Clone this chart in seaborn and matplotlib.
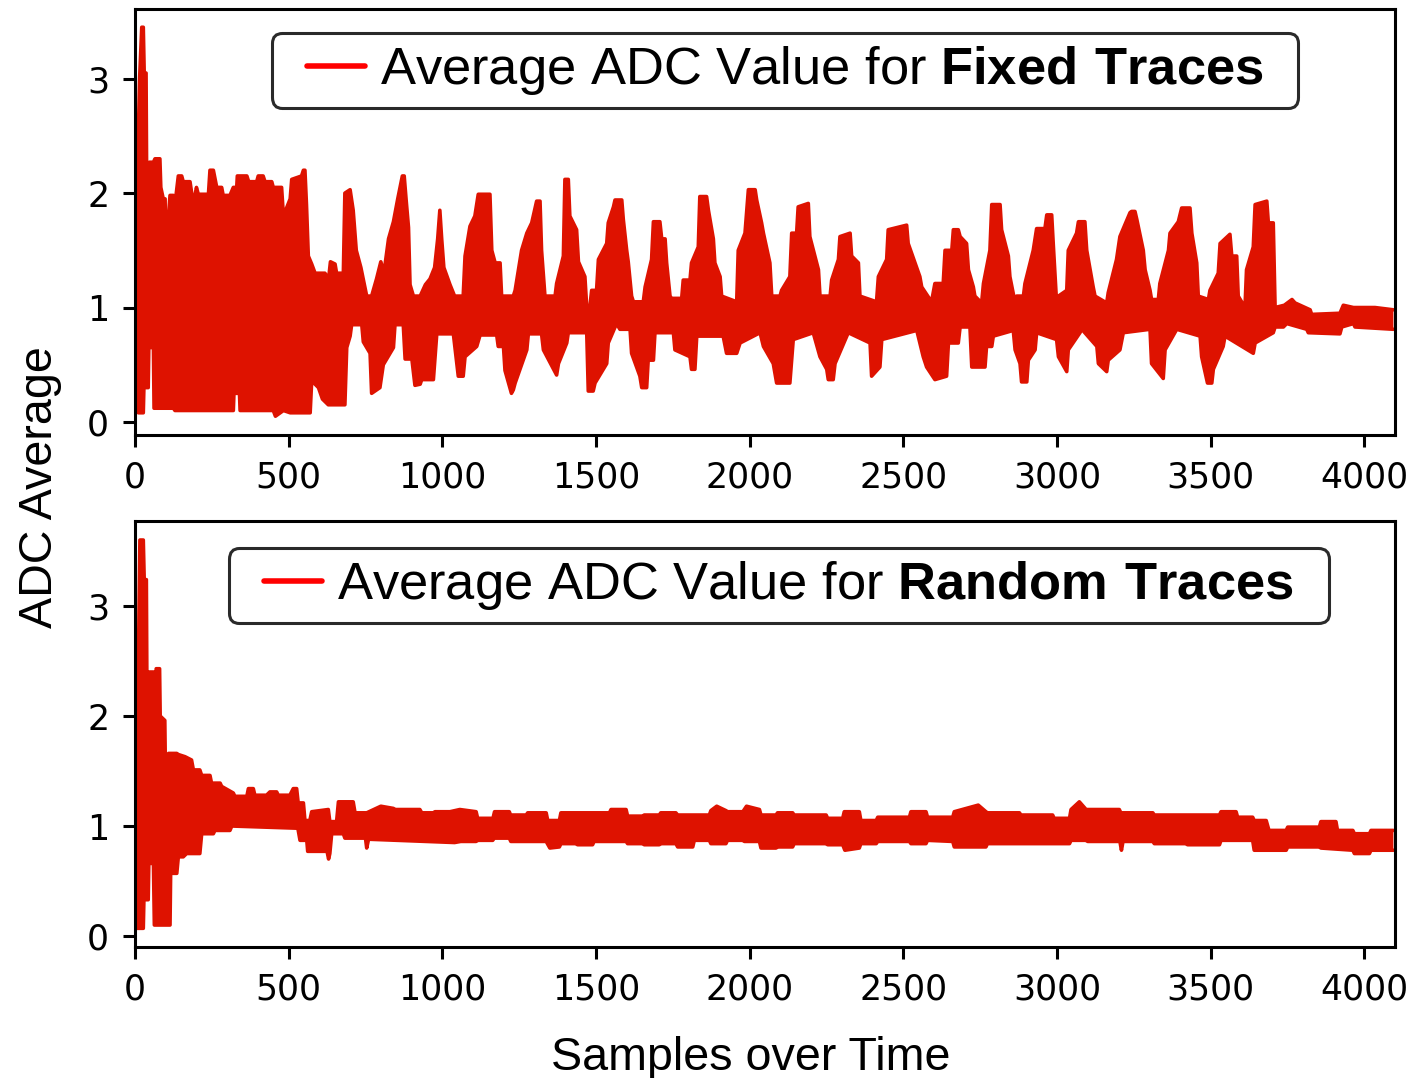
import numpy as np
import matplotlib
matplotlib.use("Agg")
import matplotlib.pyplot as plt
from matplotlib.lines import Line2D
from matplotlib.legend_handler import HandlerLine2D
from matplotlib.offsetbox import DrawingArea
import seaborn as sns

# ---- envelope of the averaged ADC traces (sample index, value) ----
fixed_upper_s = [0, 10, 15, 22, 27, 30, 36, 38, 44, 47, 60, 65, 81, 84, 92, 98, 100, 106, 114, 125,
                 130, 141, 152, 157, 179, 190, 200, 206, 239, 244, 255, 266, 282, 287, 309, 320, 331,
                 333, 364, 370, 396, 401, 417, 423, 445, 450, 477, 483, 505, 510, 542, 548, 553, 558,
                 564, 575, 586, 618, 630, 636, 651, 656, 678, 683, 700, 710, 720, 735, 754, 770, 786,
                 800, 810, 825, 841, 855, 870, 876, 882, 890, 895, 906, 928, 945, 960, 975, 985, 992,
                 998, 1005, 1025, 1040, 1068, 1074, 1090, 1106, 1117, 1155, 1161, 1172, 1188, 1193,
                 1231, 1237, 1258, 1275, 1291, 1307, 1318, 1323, 1334, 1367, 1372, 1394, 1399, 1410,
                 1415, 1437, 1443, 1464, 1470, 1480, 1486, 1502, 1508, 1535, 1540, 1557, 1562, 1584,
                 1589, 1600, 1605, 1616, 1622, 1654, 1660, 1681, 1687, 1708, 1714, 1725, 1730, 1741,
                 1746, 1779, 1784, 1806, 1811, 1833, 1838, 1860, 1866, 1882, 1887, 1904, 1909, 1958,
                 1963, 1985, 1996, 2018, 2023, 2039, 2045, 2066, 2072, 2099, 2104, 2131, 2137, 2153,
                 2158, 2191, 2196, 2224, 2229, 2262, 2267, 2289, 2294, 2327, 2332, 2354, 2359, 2413,
                 2419, 2446, 2451, 2511, 2516, 2554, 2560, 2592, 2603, 2630, 2636, 2658, 2663, 2679,
                 2685, 2706, 2712, 2728, 2733, 2755, 2761, 2782, 2788, 2815, 2820, 2842, 2847, 2864,
                 2869, 2891, 2896, 2923, 2934, 2961, 2967, 2983, 2988, 2999, 3005, 3032, 3037, 3064,
                 3070, 3091, 3097, 3118, 3124, 3162, 3167, 3194, 3205, 3238, 3243, 3254, 3260, 3281,
                 3287, 3303, 3308, 3330, 3335, 3363, 3368, 3395, 3406, 3433, 3439, 3455, 3460, 3493,
                 3498, 3525, 3531, 3563, 3569, 3585, 3590, 3612, 3617, 3639, 3645, 3683, 3688, 3704,
                 3710, 3740, 3765, 3775, 3824, 3829, 3921, 3932, 3965, 4035, 4095]
fixed_upper_v = [2.40, 2.40, 3.00, 3.45, 3.45, 3.05, 3.05, 2.10, 2.10, 2.27, 2.27, 2.30, 2.30, 2.05,
                 1.95, 1.95, 1.50, 1.70, 1.98, 1.98, 1.90, 2.15, 2.15, 2.10, 2.10, 1.90, 2.05, 1.99,
                 1.99, 2.20, 2.20, 2.05, 2.05, 1.98, 1.98, 2.05, 2.05, 2.15, 2.15, 2.10, 2.10, 2.15,
                 2.15, 2.10, 2.10, 2.05, 2.05, 1.80, 1.95, 2.12, 2.15, 2.20, 2.20, 1.90, 1.45, 1.38,
                 1.30, 1.30, 1.25, 1.40, 1.38, 1.30, 1.30, 2.00, 2.03, 1.85, 1.50, 1.35, 1.10, 1.10,
                 1.25, 1.40, 1.30, 1.60, 1.75, 1.95, 2.15, 2.15, 1.95, 1.70, 1.20, 1.10, 1.10, 1.20,
                 1.25, 1.35, 1.60, 1.85, 1.60, 1.35, 1.20, 1.10, 1.10, 1.45, 1.71, 1.80, 1.99, 1.99,
                 1.50, 1.39, 1.39, 1.10, 1.10, 1.15, 1.50, 1.65, 1.74, 1.93, 1.93, 1.50, 1.10, 1.10,
                 1.21, 1.45, 2.12, 2.12, 1.80, 1.68, 1.40, 1.27, 1.00, 1.00, 1.15, 1.15, 1.42, 1.56,
                 1.74, 1.88, 1.94, 1.94, 1.77, 1.50, 1.40, 1.10, 1.05, 1.05, 1.18, 1.42, 1.75, 1.75,
                 1.60, 1.60, 1.39, 1.10, 1.08, 1.08, 1.24, 1.24, 1.39, 1.53, 1.97, 1.97, 1.85, 1.60,
                 1.39, 1.27, 1.10, 1.05, 1.50, 1.65, 2.03, 2.03, 1.94, 1.74, 1.65, 1.39, 1.10, 1.10,
                 1.15, 1.27, 1.65, 1.65, 1.88, 1.91, 1.62, 1.33, 1.10, 1.10, 1.24, 1.42, 1.62, 1.65,
                 1.45, 1.39, 1.10, 1.05, 1.27, 1.42, 1.68, 1.72, 1.56, 1.27, 1.18, 1.05, 1.21, 1.21,
                 1.50, 1.50, 1.68, 1.68, 1.62, 1.56, 1.33, 1.18, 1.10, 1.04, 1.21, 1.50, 1.90, 1.90,
                 1.68, 1.45, 1.27, 1.04, 1.10, 1.10, 1.21, 1.50, 1.69, 1.69, 1.81, 1.81, 1.56, 1.04,
                 1.10, 1.15, 1.50, 1.65, 1.75, 1.75, 1.50, 1.18, 1.10, 1.04, 1.13, 1.42, 1.62, 1.83,
                 1.84, 1.84, 1.77, 1.50, 1.33, 1.15, 1.07, 1.07, 1.21, 1.50, 1.65, 1.75, 1.87, 1.87,
                 1.65, 1.39, 1.10, 1.07, 1.15, 1.30, 1.56, 1.64, 1.45, 1.45, 1.10, 1.00, 1.33, 1.53,
                 1.90, 1.93, 1.74, 1.74, 1.00, 1.02, 1.07, 1.04, 0.98, 0.94, 0.95, 1.02, 1.00, 1.00,
                 0.98]

fixed_lower_s = [0, 5, 11, 27, 29, 43, 45, 60, 62, 125, 130, 320, 322, 340, 342, 450, 457, 483, 505,
                 570, 575, 597, 610, 629, 683, 689, 700, 705, 738, 743, 765, 770, 797, 808, 841, 846,
                 873, 879, 901, 911, 928, 933, 971, 982, 1036, 1052, 1068, 1074, 1112, 1123, 1177,
                 1182, 1199, 1204, 1225, 1231, 1237, 1275, 1280, 1323, 1329, 1372, 1378, 1405, 1410,
                 1470, 1475, 1491, 1497, 1535, 1540, 1567, 1578, 1611, 1616, 1643, 1649, 1665, 1670,
                 1687, 1692, 1752, 1757, 1806, 1811, 1822, 1828, 1914, 1925, 1958, 1969, 2034, 2045,
                 2077, 2088, 2131, 2142, 2207, 2229, 2251, 2256, 2272, 2278, 2316, 2321, 2392, 2397,
                 2424, 2430, 2544, 2565, 2576, 2603, 2641, 2647, 2679, 2685, 2717, 2723, 2766, 2771,
                 2788, 2793, 2858, 2864, 2880, 2885, 2902, 2907, 2929, 2934, 2999, 3005, 3032, 3037,
                 3075, 3081, 3130, 3135, 3162, 3167, 3205, 3216, 3303, 3308, 3346, 3352, 3390, 3466,
                 3471, 3490, 3504, 3509, 3541, 3547, 3639, 3645, 3704, 3710, 3737, 3748, 3813, 3818,
                 3921, 3927, 3965, 3970, 4095]
fixed_lower_v = [0.10, 0.10, 0.08, 0.08, 0.30, 0.30, 0.65, 0.65, 0.12, 0.12, 0.10, 0.10, 0.25, 0.25,
                 0.10, 0.10, 0.05, 0.10, 0.08, 0.08, 0.36, 0.30, 0.20, 0.15, 0.15, 0.65, 0.75, 0.85,
                 0.85, 0.70, 0.60, 0.25, 0.30, 0.50, 0.65, 0.85, 0.85, 0.55, 0.55, 0.32, 0.33, 0.37,
                 0.37, 0.77, 0.77, 0.40, 0.40, 0.57, 0.66, 0.76, 0.76, 0.66, 0.66, 0.45, 0.25, 0.28,
                 0.34, 0.63, 0.77, 0.77, 0.63, 0.41, 0.51, 0.69, 0.78, 0.78, 0.27, 0.27, 0.34, 0.51,
                 0.69, 0.86, 0.81, 0.81, 0.60, 0.40, 0.30, 0.30, 0.54, 0.54, 0.78, 0.78, 0.63, 0.57,
                 0.46, 0.46, 0.75, 0.75, 0.60, 0.60, 0.69, 0.78, 0.66, 0.51, 0.34, 0.34, 0.72, 0.78,
                 0.57, 0.46, 0.37, 0.37, 0.51, 0.75, 0.78, 0.69, 0.40, 0.48, 0.72, 0.80, 0.57, 0.48,
                 0.37, 0.40, 0.69, 0.69, 0.83, 0.83, 0.48, 0.48, 0.66, 0.66, 0.75, 0.80, 0.63, 0.51,
                 0.35, 0.35, 0.54, 0.63, 0.78, 0.72, 0.57, 0.44, 0.63, 0.78, 0.81, 0.66, 0.51, 0.44,
                 0.54, 0.63, 0.78, 0.81, 0.51, 0.38, 0.63, 0.81, 0.75, 0.57, 0.34, 0.34, 0.46, 0.66,
                 0.75, 0.60, 0.69, 0.78, 0.83, 0.83, 0.86, 0.81, 0.78, 0.77, 0.83, 0.86, 0.83, 0.81]

random_upper_s = [0, 11, 13, 16, 27, 30, 37, 39, 45, 47, 61, 63, 67, 69, 80, 82, 97, 100, 106, 109,
                  136, 141, 163, 184, 190, 211, 217, 244, 249, 277, 282, 320, 325, 364, 369, 385, 390,
                  428, 439, 461, 466, 504, 515, 526, 531, 548, 553, 569, 575, 629, 634, 656, 662, 710,
                  716, 754, 800, 841, 846, 927, 933, 971, 976, 1025, 1057, 1110, 1115, 1165, 1170,
                  1218, 1222, 1273, 1278, 1338, 1343, 1381, 1386, 1544, 1549, 1598, 1603, 1652, 1657,
                  1706, 1711, 1760, 1766, 1869, 1874, 1893, 1923, 1928, 1978, 1990, 2032, 2037, 2086,
                  2091, 2140, 2145, 2249, 2254, 2303, 2308, 2357, 2362, 2412, 2417, 2520, 2525, 2574,
                  2579, 2661, 2666, 2744, 2769, 2774, 2878, 2883, 2986, 2991, 3041, 3046, 3073, 3095,
                  3203, 3208, 3312, 3317, 3529, 3534, 3583, 3588, 3637, 3642, 3681, 3690, 3746, 3751,
                  3854, 3859, 3908, 3913, 3963, 3968, 4017, 4022, 4095]
random_upper_v = [2.39, 2.39, 2.93, 3.60, 3.60, 3.24, 3.24, 2.12, 2.12, 2.40, 2.40, 2.12, 2.12, 2.43,
                  2.43, 2.00, 1.96, 1.27, 1.27, 1.66, 1.66, 1.65, 1.63, 1.60, 1.51, 1.51, 1.46, 1.46,
                  1.39, 1.39, 1.36, 1.30, 1.27, 1.27, 1.34, 1.34, 1.28, 1.28, 1.31, 1.31, 1.28, 1.28,
                  1.34, 1.34, 1.21, 1.21, 1.05, 1.05, 1.13, 1.15, 1.04, 1.04, 1.22, 1.22, 1.12, 1.12,
                  1.18, 1.16, 1.15, 1.15, 1.12, 1.12, 1.13, 1.13, 1.15, 1.13, 1.07, 1.07, 1.13, 1.13,
                  1.10, 1.10, 1.12, 1.12, 1.05, 1.05, 1.12, 1.12, 1.15, 1.15, 1.09, 1.09, 1.10, 1.10,
                  1.12, 1.12, 1.10, 1.10, 1.14, 1.18, 1.14, 1.13, 1.13, 1.18, 1.15, 1.10, 1.10, 1.12,
                  1.12, 1.10, 1.10, 1.07, 1.07, 1.13, 1.13, 1.05, 1.05, 1.08, 1.08, 1.13, 1.13, 1.08,
                  1.08, 1.13, 1.19, 1.13, 1.12, 1.12, 1.10, 1.10, 1.07, 1.07, 1.15, 1.22, 1.15, 1.15,
                  1.12, 1.12, 1.10, 1.10, 1.13, 1.13, 1.08, 1.08, 1.05, 1.05, 0.96, 0.96, 0.99, 0.99,
                  1.04, 1.04, 0.96, 0.96, 0.93, 0.93, 0.96, 0.96]

random_lower_s = [0, 27, 29, 43, 45, 60, 63, 114, 116, 136, 141, 157, 168, 211, 217, 255, 260, 309,
                  315, 530, 537, 559, 562, 625, 630, 634, 640, 678, 683, 750, 754, 760, 1040, 1060,
                  1110, 1115, 1164, 1169, 1218, 1223, 1338, 1350, 1381, 1386, 1435, 1440, 1489, 1494,
                  1598, 1603, 1652, 1657, 1706, 1711, 1760, 1766, 1815, 1820, 1869, 1874, 1923, 1928,
                  1978, 1983, 2032, 2037, 2086, 2091, 2140, 2145, 2249, 2254, 2303, 2310, 2357, 2362,
                  2412, 2417, 2520, 2525, 2574, 2579, 2661, 2666, 2769, 2774, 3041, 3046, 3095, 3100,
                  3205, 3210, 3215, 3312, 3317, 3420, 3425, 3529, 3534, 3637, 3642, 3746, 3751, 3854,
                  3859, 3963, 3968, 4017, 4022, 4095]
random_lower_v = [0.07, 0.07, 0.33, 0.33, 0.66, 0.66, 0.10, 0.10, 0.57, 0.57, 0.72, 0.72, 0.75, 0.75,
                  0.93, 0.93, 0.96, 0.96, 1.00, 0.98, 0.87, 0.87, 0.77, 0.77, 0.70, 0.75, 0.93, 0.93,
                  0.89, 0.89, 0.80, 0.88, 0.85, 0.86, 0.86, 0.87, 0.87, 0.89, 0.89, 0.86, 0.86, 0.80,
                  0.81, 0.84, 0.84, 0.83, 0.83, 0.86, 0.86, 0.84, 0.84, 0.83, 0.83, 0.84, 0.84, 0.81,
                  0.81, 0.87, 0.87, 0.84, 0.84, 0.87, 0.87, 0.86, 0.86, 0.80, 0.80, 0.81, 0.81, 0.84,
                  0.84, 0.83, 0.83, 0.78, 0.80, 0.84, 0.84, 0.86, 0.86, 0.84, 0.84, 0.87, 0.86, 0.81,
                  0.81, 0.84, 0.84, 0.87, 0.87, 0.86, 0.86, 0.78, 0.86, 0.86, 0.84, 0.84, 0.83, 0.83,
                  0.87, 0.87, 0.78, 0.78, 0.81, 0.81, 0.80, 0.78, 0.75, 0.75, 0.78, 0.78]

legend_labels = [r"Average ADC Value for $\bf{Fixed\ Traces}$",
                 r"Average ADC Value for $\bf{Random\ Traces}$"]
x_ticks = [0, 500, 1000, 1500, 2000, 2500, 3000, 3500, 4000]
y_ticks = [0, 1, 2, 3]

TRACE = "#de1200"
DPI = 200

sns.set_style("ticks")
plt.rcParams.update({
    "font.family": ["DejaVu Sans"],
    "mathtext.fontset": "custom",
    "mathtext.rm": "Liberation Sans",
    "mathtext.bf": "Liberation Sans:bold",
    "text.color": "black",
    "axes.labelcolor": "black",
    "axes.edgecolor": "black",
    "axes.linewidth": 1.1,
    "xtick.color": "black",
    "ytick.color": "black",
})

fig = plt.figure(figsize=(7.12, 5.39), dpi=DPI)
ax_top = fig.add_axes([0.0948, 0.5965, 0.8848, 0.3952])
ax_bot = fig.add_axes([0.0948, 0.1215, 0.8848, 0.3952])


def draw_band(ax, us, uv, ls, lv):
    us, uv, ls, lv = map(np.asarray, (us, uv, ls, lv))
    ax.fill(np.r_[us, ls[::-1]], np.r_[uv, lv[::-1]], color=TRACE, lw=0)
    for xs, ys in ((us, uv), (ls, lv)):
        sns.lineplot(x=xs, y=ys, ax=ax, sort=False, estimator=None, color=TRACE,
                     lw=1.3, solid_joinstyle="round", solid_capstyle="round")


draw_band(ax_top, fixed_upper_s, fixed_upper_v, fixed_lower_s, fixed_lower_v)
draw_band(ax_bot, random_upper_s, random_upper_v, random_lower_s, random_lower_v)

ax_top.set_ylim(-0.114, 3.61)
ax_bot.set_ylim(-0.10, 3.773)

anchors = [(0.5159, 0.9437), (0.511, 0.9366)]
for ax, lab, anc in zip((ax_top, ax_bot), legend_labels, anchors):
    ax.set_xlim(0, 4100)
    ax.set_xticks(x_ticks)
    ax.set_yticks(y_ticks)
    ax.tick_params(axis="both", labelsize=12.5, length=4.3, width=1.1, pad=5)
    ax.set_xlabel("")
    ax.set_ylabel("")
    for sp in ax.spines.values():
        sp.set_visible(True)
        sp.set_linewidth(1.1)
    handle = Line2D([], [], color="red", lw=2.0)
    leg = ax.legend([handle], [lab], loc="upper center", bbox_to_anchor=anc,
                    borderaxespad=0, prop={"family": "Liberation Sans", "size": 18.9},
                    handler_map={Line2D: HandlerLine2D(marker_pad=0.457, numpoints=2)},
                    handlelength=2.02, handletextpad=-0.17, borderpad=0.21,
                    columnspacing=0.0, frameon=True, fancybox=True, framealpha=1)
    # extra right-hand padding inside the frame
    leg._legend_handle_box.get_children().append(DrawingArea(24 * 72 / DPI, 0))
    fr = leg.get_frame()
    fr.set_edgecolor("#2a2a2a")
    fr.set_linewidth(1.1)

fig.text(0.028, 0.548, "ADC Average", rotation=90, ha="center", va="center",
         family="Liberation Sans", fontsize=16.8)
fig.text(0.527, 0.019, "Samples over Time", ha="center", va="center",
         family="Liberation Sans", fontsize=16.8)

fig.savefig("out.png", dpi=DPI)
